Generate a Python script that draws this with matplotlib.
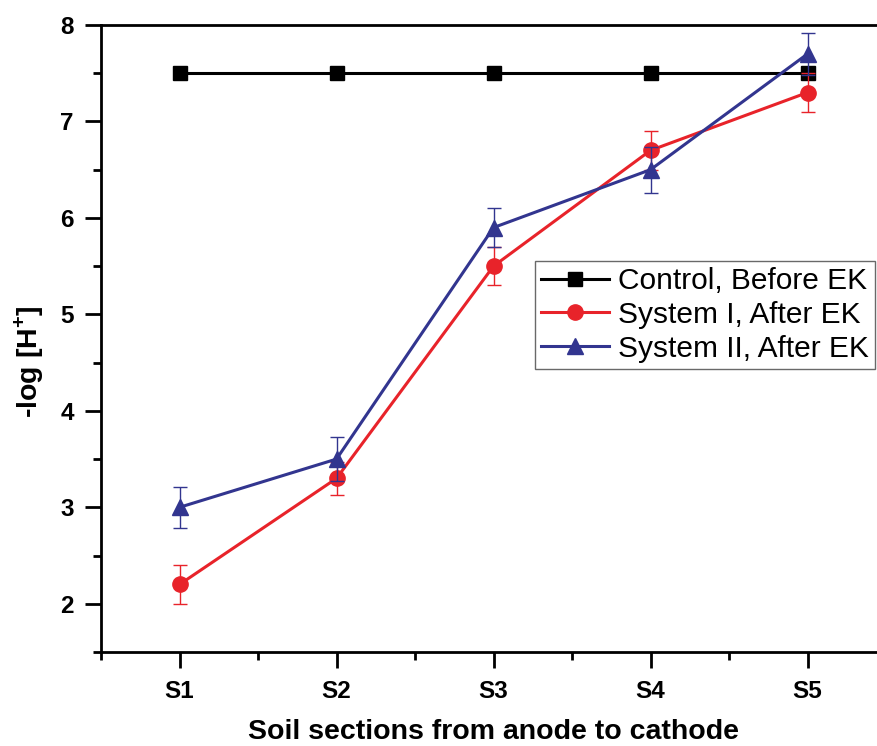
import matplotlib
matplotlib.use("Agg")
import matplotlib.pyplot as plt
from matplotlib.ticker import MultipleLocator, FixedLocator

plt.rcParams['font.family'] = ['Liberation Sans', 'DejaVu Sans']
plt.rcParams['mathtext.fontset'] = 'custom'
plt.rcParams['mathtext.rm'] = 'Liberation Sans'
plt.rcParams['mathtext.bf'] = 'Liberation Sans:bold'

sections = ["S1", "S2", "S3", "S4", "S5"]
control = [7.5, 7.5, 7.5, 7.5, 7.5]
system1 = [2.2, 3.3, 5.5, 6.7, 7.3]
system1_err = [0.2, 0.17, 0.2, 0.2, 0.2]
system2 = [3.0, 3.5, 5.9, 6.5, 7.7]
system2_err = [0.21, 0.23, 0.2, 0.24, 0.22]

W, H = 878, 746
fig = plt.figure(figsize=(W / 100, H / 100), dpi=100)
ax = fig.add_axes([101 / W, 1 - 652 / H, 785 / W, 627 / H])

x = list(range(1, len(sections) + 1))
red = '#E8232A'
blue = '#32358F'

ax.plot(x, control, color='black', lw=2.2, marker='s', ms=9.5,
        label='Control, Before EK', zorder=3)
ax.errorbar(x, system1, yerr=system1_err, fmt='none',
            ecolor=red, elinewidth=1.0, capsize=5, capthick=1.0, zorder=4)
ax.plot(x, system1, color=red, lw=2.2, marker='o', ms=11,
        label='System I, After EK', zorder=4)
ax.errorbar(x, system2, yerr=system2_err, fmt='none',
            ecolor=blue, elinewidth=1.0, capsize=5, capthick=1.0, zorder=5)
ax.plot(x, system2, color=blue, lw=2.2, marker='^', ms=12,
        label='System II, After EK', zorder=5)

ax.set_xlim(0.5, 5.5)
ax.set_ylim(1.5, 8)
ax.xaxis.set_major_locator(FixedLocator(x))
ax.set_xticklabels(sections)
ax.xaxis.set_minor_locator(FixedLocator([0.5, 1.5, 2.5, 3.5, 4.5, 5.5]))
ax.yaxis.set_major_locator(MultipleLocator(1))
ax.yaxis.set_minor_locator(MultipleLocator(0.5))

for s in ax.spines.values():
    s.set_linewidth(2.0)
ax.tick_params(which='major', direction='out', length=11.5, width=2.0,
               labelsize=17.5)
ax.tick_params(axis='y', which='major', pad=8)
ax.tick_params(axis='x', which='major', pad=9)
ax.tick_params(which='minor', direction='out', length=5.5, width=2.0)
for lab in ax.get_xticklabels() + ax.get_yticklabels():
    lab.set_fontweight('bold')

ax.set_xlabel('Soil sections from anode to cathode', fontsize=20.5,
              fontweight='bold')
ax.xaxis.set_label_coords(0.5, (652 - 719) / 627)
ax.xaxis.label.set_va('top')
ax.set_ylabel(r'-log [H$^\mathbf{+}$]', fontsize=20.5, fontweight='bold')
ax.yaxis.set_label_coords((29 - 101) / 785, (652 - 362) / 627)
ax.yaxis.label.set_va('center')

leg = ax.legend(loc='upper right',
                bbox_to_anchor=((875 - 101) / 785, (652 - 261) / 627),
                fontsize=21.5, frameon=True, fancybox=False, edgecolor='#444444',
                borderpad=0.2, labelspacing=0.2, handlelength=2.3,
                handletextpad=0.3, borderaxespad=0)
leg.get_frame().set_linewidth(1.0)

fig.savefig('out.png', dpi=100)
